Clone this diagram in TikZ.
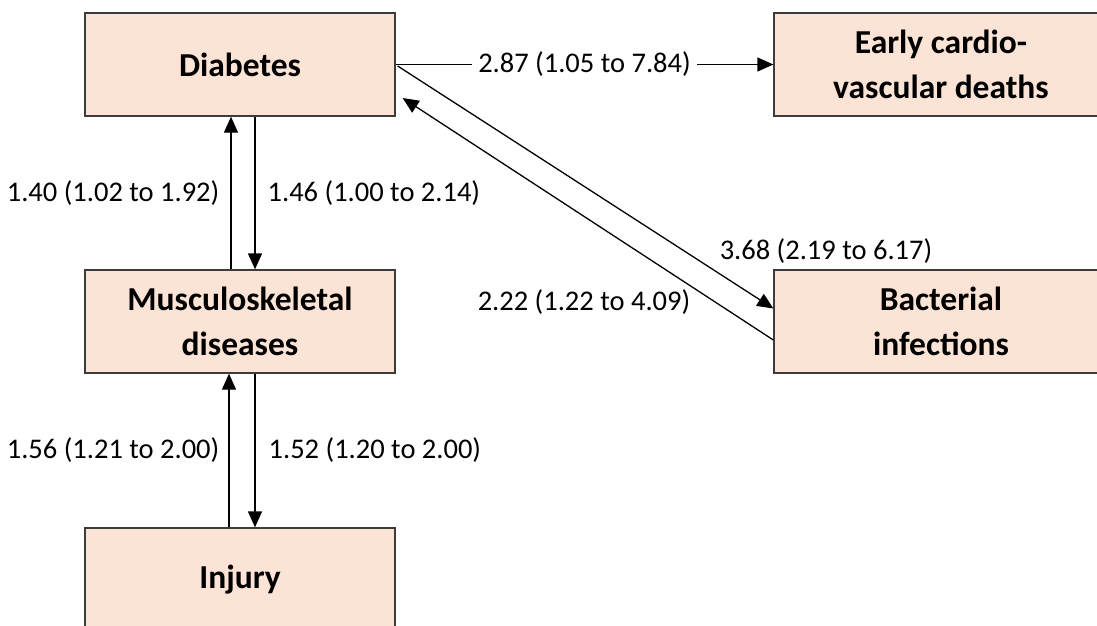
\documentclass[tikz,border=0pt]{standalone}
\usepackage{fontspec}
\setmainfont{Carlito}
\usetikzlibrary{arrows.meta,calc}
\definecolor{boxfill}{RGB}{251,227,213}
\definecolor{boxline}{RGB}{60,60,60}
\tikzset{
  box/.style={draw=boxline,line width=1.3pt,fill=boxfill,minimum height=103pt,
    inner sep=0pt,align=center,font=\fontsize{33.5}{45}\selectfont\bfseries},
  lbl/.style={inner sep=0pt,font=\fontsize{28.5}{31}\selectfont},
  conn/.style={line width=1.3pt,-{Triangle[length=16pt,width=14pt]}},
  plain/.style={line width=1.3pt}
}
\begin{document}
\begin{tikzpicture}[x=1pt,y=-1pt]
\useasboundingbox (0,0) rectangle (1097,626);
\node[box,minimum width=310pt] (diab) at (240,64.5) {Diabetes};
\node[box,minimum width=334pt] (early) at (941,64.5) {Early cardio-\\vascular deaths};
\node[box,minimum width=310pt] (musc) at (240,321.5) {Musculoskeletal\\diseases};
\node[box,minimum width=334pt] (bact) at (941,321.5) {Bacterial\\infections};
\node[box,minimum width=310pt] (inj) at (240,579.5) {Injury};

% Diabetes -> Early CV deaths
\draw[conn] (diab.east) -- node[lbl,fill=white,inner xsep=6pt,inner ysep=4pt] {2.87 (1.05 to 7.84)} (early.west);

% Diabetes <-> Musculoskeletal
\draw[conn] ($(musc.north)+(-9,0)$) -- node[lbl,midway,left=11pt] {1.40 (1.02 to 1.92)} ($(diab.south)+(-9,0)$);
\draw[conn] ($(diab.south)+(15,0)$) -- node[lbl,midway,right=12pt] {1.46 (1.00 to 2.14)} ($(musc.north)+(15,0)$);

% Musculoskeletal <-> Injury
\draw[conn] ($(inj.north)+(-11,0)$) -- node[lbl,midway,left=9pt] {1.56 (1.21 to 2.00)} ($(musc.south)+(-11,0)$);
\draw[conn] ($(musc.south)+(15,0)$) -- node[lbl,midway,right=13pt] {1.52 (1.20 to 2.00)} ($(inj.north)+(15,0)$);

% Diabetes <-> Bacterial infections
\draw[conn] ($(diab.east)+(2,1.5)$) -- ($(bact.west)+(0,-13)$);
\draw[conn] ($(bact.west)+(0,18.5)$) -- ($(diab.east)+(7,33.5)$);
\node[lbl] (l368) at (826,251) {3.68 (2.19 to 6.17)};
\node[lbl] (l222) at (584,302) {2.22 (1.22 to 4.09)};
\end{tikzpicture}
\end{document}
